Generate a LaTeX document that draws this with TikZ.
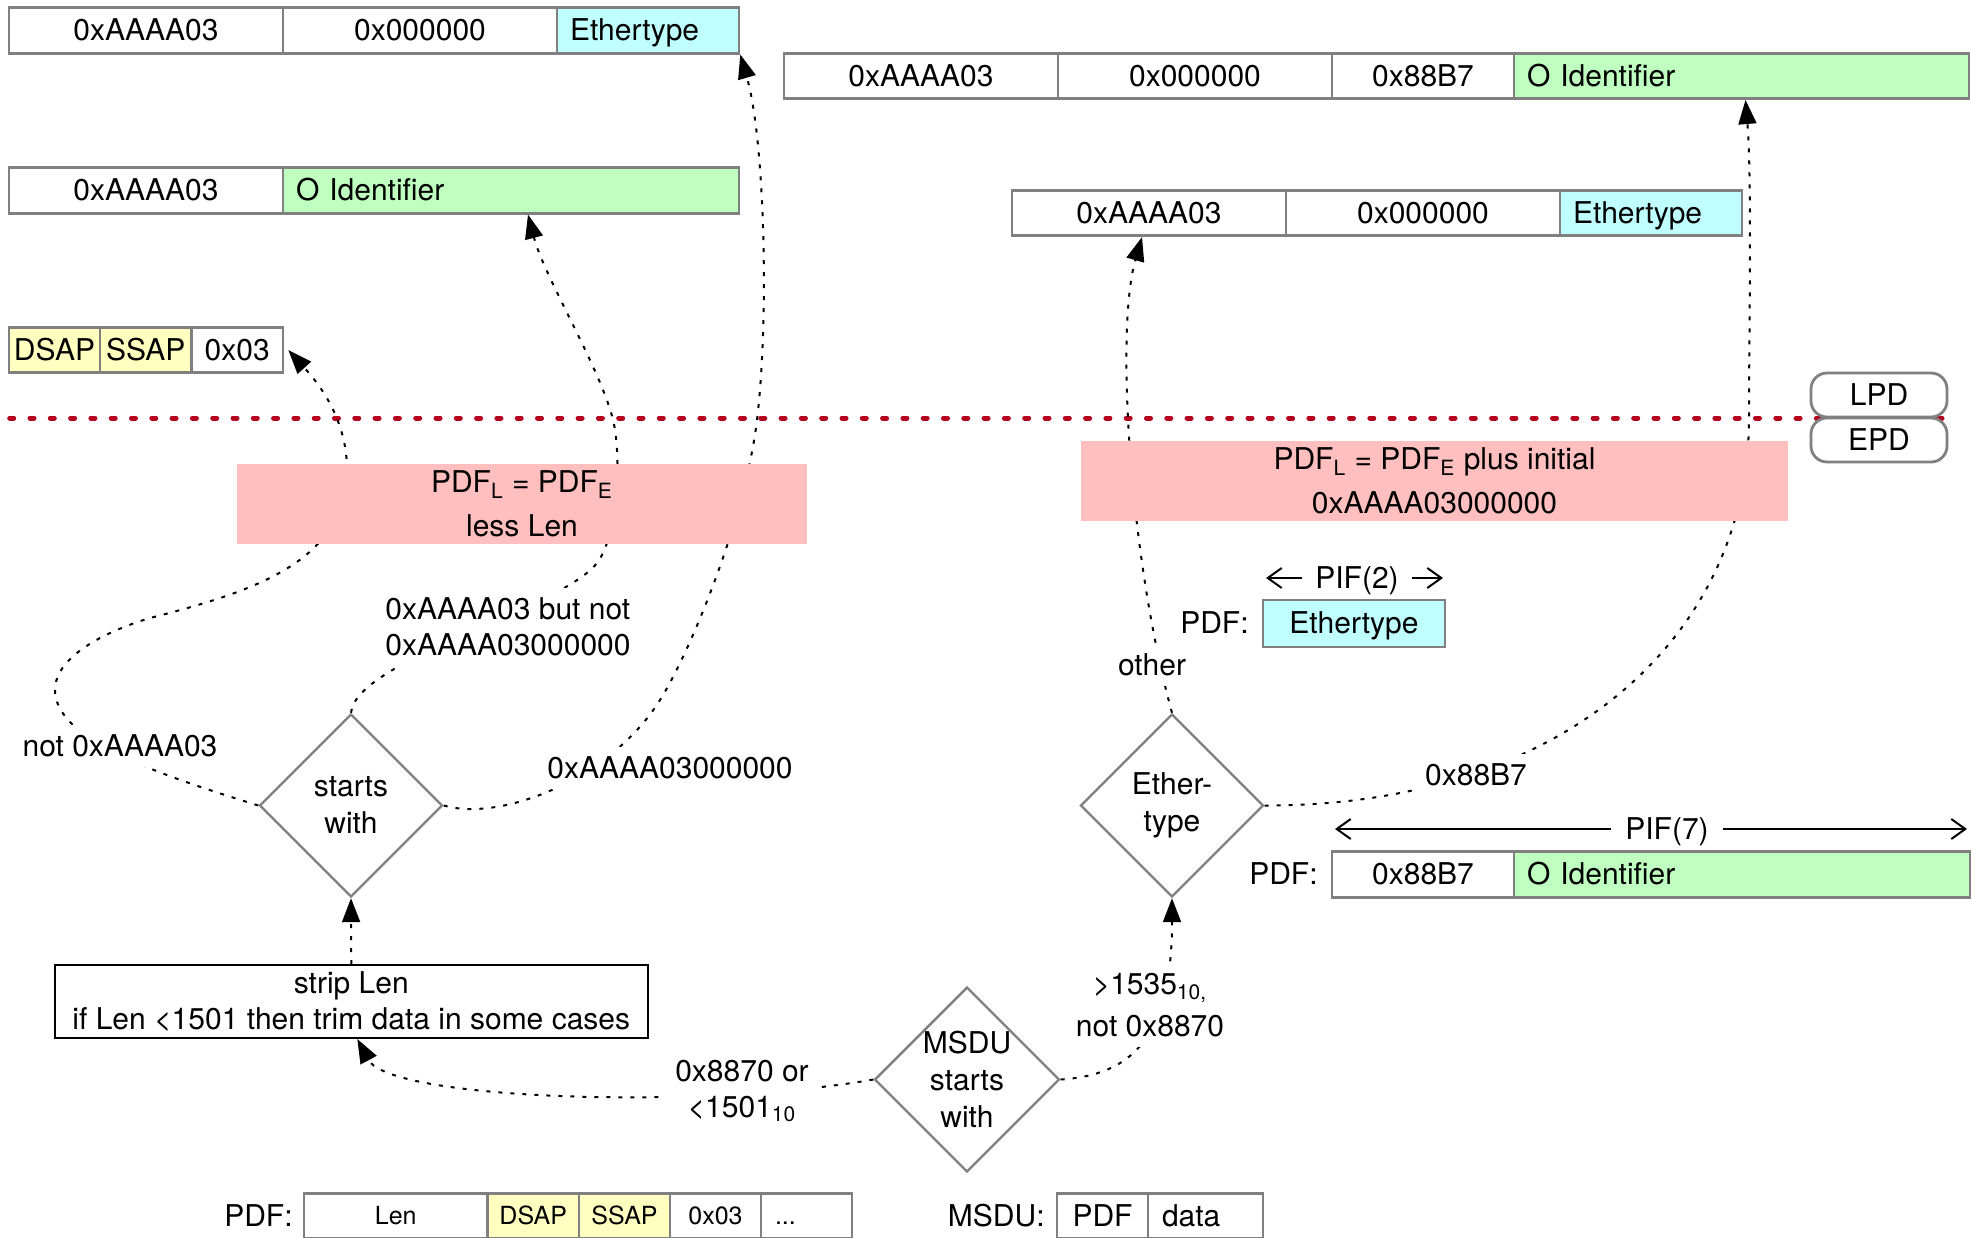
\documentclass[tikz,border=0pt]{standalone}
\usepackage{fontspec}
\setmainfont{TeX Gyre Heros}
\usetikzlibrary{arrows.meta,shapes.geometric}
\definecolor{cyanf}{HTML}{BFFFFF}
\definecolor{greenf}{HTML}{BFFFBF}
\definecolor{yellowf}{HTML}{FFFFBF}
\definecolor{pinkf}{HTML}{FFBFBF}
\definecolor{redline}{HTML}{B4001E}
\definecolor{cellgray}{HTML}{808080}
\begin{document}
\begin{tikzpicture}[x=0.5pt, y=-0.5pt,
  every node/.style={font=\fontsize{15}{18}\selectfont},
  cell/.style={draw=cellgray, line width=1.3pt, inner sep=0pt, text height=10.8pt, text depth=0.5pt, minimum height=22.75pt},
  cellL/.style={cell, align=left, inner xsep=6.5pt},
  small/.style={font=\fontsize{12.5}{15}\selectfont, text height=9pt, text depth=0.5pt},
  lbl/.style={inner sep=0pt, text height=10.8pt, text depth=0.5pt},
  dia/.style={diamond, draw=cellgray, line width=1.2pt, minimum width=91.5pt, minimum height=91.5pt, inner sep=0pt, align=center, font=\fontsize{15}{18.5}\selectfont},
  pinkbox/.style={fill=pinkf, inner sep=0pt, align=center, font=\fontsize{15}{22}\selectfont},
  rbox/.style={draw=cellgray, line width=1.4pt, rounded corners=8pt, fill=white, minimum width=68pt, minimum height=22pt, inner sep=0pt},
  elbl/.style={fill=white, inner sep=5pt},
  conn/.style={line width=1pt, dash pattern=on 2pt off 4pt, -{Triangle[length=12pt,width=9pt]}},
  pifarr/.style={line width=1pt, -{Straight Barb[length=7pt,width=10pt]}},
  sepline/.style={draw=redline, line width=2.5pt, line cap=round, dash pattern=on 2pt off 8.15pt}
]
\clip (0,0) rectangle (1981,1237);

% separator
\coordinate (redL) at (9.7,418);
\coordinate (redR) at (1942,418);
\draw[sepline] (redL) -- (redR);

% top-left rows
\node[cell, minimum width=137pt] (A1) at (146,30.5) {0xAAAA03};
\node[cell, minimum width=137pt] (A2) at (420,30.5) {0x000000};
\node[cellL, fill=cyanf, text width=78pt] (A3) at (648,30.5) {Ethertype};

\node[cell, minimum width=137pt] (B1) at (146,190.5) {0xAAAA03};
\node[cellL, fill=greenf, text width=215pt] (B2) at (511,190.5) {O Identifier};

\node[cell, fill=yellowf, minimum width=45.5pt] (C1) at (54.5,350) {DSAP};
\node[cell, fill=yellowf, minimum width=45.75pt] (C2) at (145.75,350) {SSAP};
\node[cell, minimum width=45.75pt] (C3) at (237.25,350) {0x03};

% top-right rows
\node[cell, minimum width=137pt] (D1) at (921,76) {0xAAAA03};
\node[cell, minimum width=137pt] (D2) at (1195,76) {0x000000};
\node[cell, minimum width=91pt] (D3) at (1423,76) {0x88B7};
\node[cellL, fill=greenf, text width=214.5pt] (D4) at (1741.5,76) {O Identifier};

\node[cell, minimum width=137pt] (E1) at (1149,213) {0xAAAA03};
\node[cell, minimum width=137pt] (E2) at (1423,213) {0x000000};
\node[cellL, fill=cyanf, text width=78pt] (E3) at (1651,213) {Ethertype};

% LPD / EPD
\node[rbox] (lpd) at (1879,395) {LPD};
\node[rbox] (epd) at (1879,440) {EPD};

% PIF(2) Ethertype
\node[lbl, inner xsep=6.5pt] (pif2) at (1357,578) {PIF(2)};
\coordinate (pif2L) at (1266,578);
\coordinate (pif2R) at (1443,578);
\draw[pifarr] (pif2.west) -- (pif2L);
\draw[pifarr] (pif2.east) -- (pif2R);
\node[lbl, anchor=east] (pdfF) at (1249,623.5) {PDF:};
\node[cell, fill=cyanf, minimum width=91pt, minimum height=23.5pt] (F) at (1354,623.5) {Ethertype};

% PIF(7) 0x88B7
\node[lbl, inner xsep=7pt] (pif7) at (1667,829) {PIF(7)};
\coordinate (pif7L) at (1335,829);
\coordinate (pif7R) at (1967,829);
\draw[pifarr] (pif7.west) -- (pif7L);
\draw[pifarr] (pif7.east) -- (pif7R);
\node[lbl, anchor=east] (pdfG) at (1318,874.5) {PDF:};
\node[cell, minimum width=91pt] (G1) at (1423,874.5) {0x88B7};
\node[cellL, fill=greenf, text width=215pt] (G2) at (1742,874.5) {O Identifier};

% bottom rows
\node[lbl, anchor=east] (pdfH) at (293,1216) {PDF:};
\node[cell, small, minimum width=91.75pt] (H1) at (395.75,1216) {Len};
\node[cell, small, fill=yellowf, minimum width=45.75pt] (H2) at (533.25,1216) {DSAP};
\node[cell, small, fill=yellowf, minimum width=45.5pt] (H3) at (624.5,1216) {SSAP};
\node[cell, small, minimum width=45.5pt] (H4) at (715.5,1216) {0x03};
\node[cellL, small, inner xsep=7pt, text width=31.5pt] (H5) at (806.5,1216) {...};

\node[lbl, anchor=east] (msduL) at (1045,1216) {MSDU:};
\node[cell, minimum width=45.5pt] (I1) at (1102.5,1216) {PDF};
\node[cellL, inner xsep=7pt, text width=43.5pt] (I2) at (1205.5,1216) {data};

% decisions and process
\node[dia] (sw) at (351,805.5) {starts\\with};
\node[dia] (ether) at (1172,805.5) {Ether-\\type};
\node[dia] (msdu) at (967,1079.5) {MSDU\\starts\\with};
\node[draw=black, line width=1pt, minimum width=296.3pt, minimum height=36.5pt, inner sep=0pt, align=center] (strip) at (351.3,1001.5) {strip Len\\if Len <1501 then trim data in some cases};

% connectors
\draw[conn] (strip.north) -- (sw.south);
\draw[conn] (msdu.west) .. controls (700,1110) and (390,1100) .. ([xshift=3pt]strip.south);
\draw[conn] (msdu.east) .. controls (1130,1075) and (1172,1040) .. (ether.south);
\draw[conn] (ether.north) .. controls (1130,560) and (1115,330) .. ([xshift=-3.5pt]E1.south);
\draw[conn] (ether.east) .. controls (1560,806) and (1749,640) .. (1749,418) .. controls (1749,330) and (1752,180) .. ([xshift=2pt]D4.south);
\draw[conn] (sw.west) .. controls (160,775) and (55,740) .. (55,690) .. controls (55,655) and (110,630) .. (150,618) .. controls (260,590) and (345,560) .. (347,470) .. controls (347,420) and (320,385) .. ([xshift=2pt]C3.east);
\draw[conn] (sw.north) .. controls (356,660) and (560,610) .. (597,563) .. controls (614,541) and (622,480) .. (615,430) .. controls (608,380) and (545,280) .. ([xshift=8.5pt]B2.south);
\draw[conn] (sw.east) .. controls (500,822) and (610,780) .. (660,700) .. controls (690,652) and (745,520) .. (757,420) .. controls (769,320) and (765,140) .. (A3.south east);

% connector labels
\node[elbl] (lnot) at (120,746) {not 0xAAAA03};
\node[elbl, align=left, anchor=west] (lbut) at (375,627) {0xAAAA03 but not\\0xAAAA03000000};
\node[elbl] (l3000) at (670,768) {0xAAAA03000000};
\node[elbl] (lother) at (1152,665) {other};
\node[elbl] (l88b7) at (1476,775) {0x88B7};
\node[elbl, align=center] (l8870) at (742,1091) {0x8870 or\\<1501\textsubscript{10}};
\node[elbl, align=center] (l1535) at (1150,1005) {>1535\textsubscript{10,}\\[3pt]not 0x8870};

% pink boxes
\node[pinkbox, minimum width=285pt, minimum height=40pt] (pinkL) at (522,504) {PDF\textsubscript{L} = PDF\textsubscript{E}\\less Len};
\node[pinkbox, minimum width=353.5pt, minimum height=40pt] (pinkR) at (1434.5,481) {PDF\textsubscript{L} = PDF\textsubscript{E} plus initial\\0xAAAA03000000};
\end{tikzpicture}
\end{document}
